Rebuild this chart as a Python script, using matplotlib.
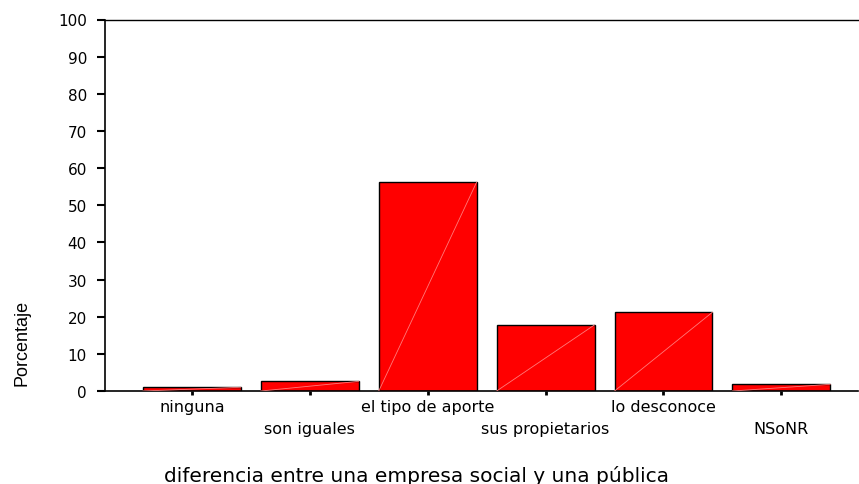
import matplotlib
matplotlib.use("Agg")
import matplotlib.pyplot as plt
import numpy as np

categories = ["ninguna", "son iguales", "el tipo de aporte", "sus propietarios",
              "lo desconoce", "NSoNR"]
values = [1.0, 2.6, 56.2, 17.8, 21.2, 1.8]
yticks = [0, 10, 20, 30, 40, 50, 60, 70, 80, 90, 100]
xlabel = "diferencia entre una empresa social y una pública"
ylabel = "Porcentaje"

plt.rcParams['font.family'] = ['DejaVu Sans']

fig = plt.figure(figsize=(8.59, 4.85), dpi=100)
ax = fig.add_axes([105/859, 1 - 392/485, (858-105)/859, (392-20.5)/485])

x = np.arange(len(categories))
w = 0.83
ax.bar(x, values, width=w, color="#ff0000", edgecolor="black", linewidth=1.0, zorder=2)
for xi, v in zip(x, values):
    ax.plot([xi - w/2, xi + w/2], [0, v], color="#ff7a7a", linewidth=0.6, zorder=3)

ax.set_xlim(-0.737, 5.65)
ax.set_ylim(0, 100)
ax.set_yticks(yticks)
ax.set_yticklabels([str(t) for t in yticks], fontsize=11)
ax.set_xticks(x)
ax.set_xticklabels([])
for xi, c in zip(x, categories):
    yoff = -0.042 if xi % 2 == 0 else -0.102
    ax.text(xi, yoff, c, transform=ax.get_xaxis_transform(), ha="center", va="center",
            fontsize=11.5)

ax.spines['right'].set_visible(False)
ax.spines['top'].set_linewidth(1.0)
ax.spines['left'].set_linewidth(1.2)
ax.spines['bottom'].set_linewidth(1.2)
ax.tick_params(axis='y', direction='out', length=6, width=1.5, pad=7)
ax.tick_params(axis='x', direction='out', length=3, width=2)

fig.text(22/859, 1 - 343/485, ylabel, rotation=90, ha="center", va="center",
         fontsize=13, family=['Liberation Sans', 'DejaVu Sans'])
fig.text(417/859, 1 - 476/485, xlabel, ha="center", va="center", fontsize=14.5)

fig.savefig("out.png", dpi=100)
